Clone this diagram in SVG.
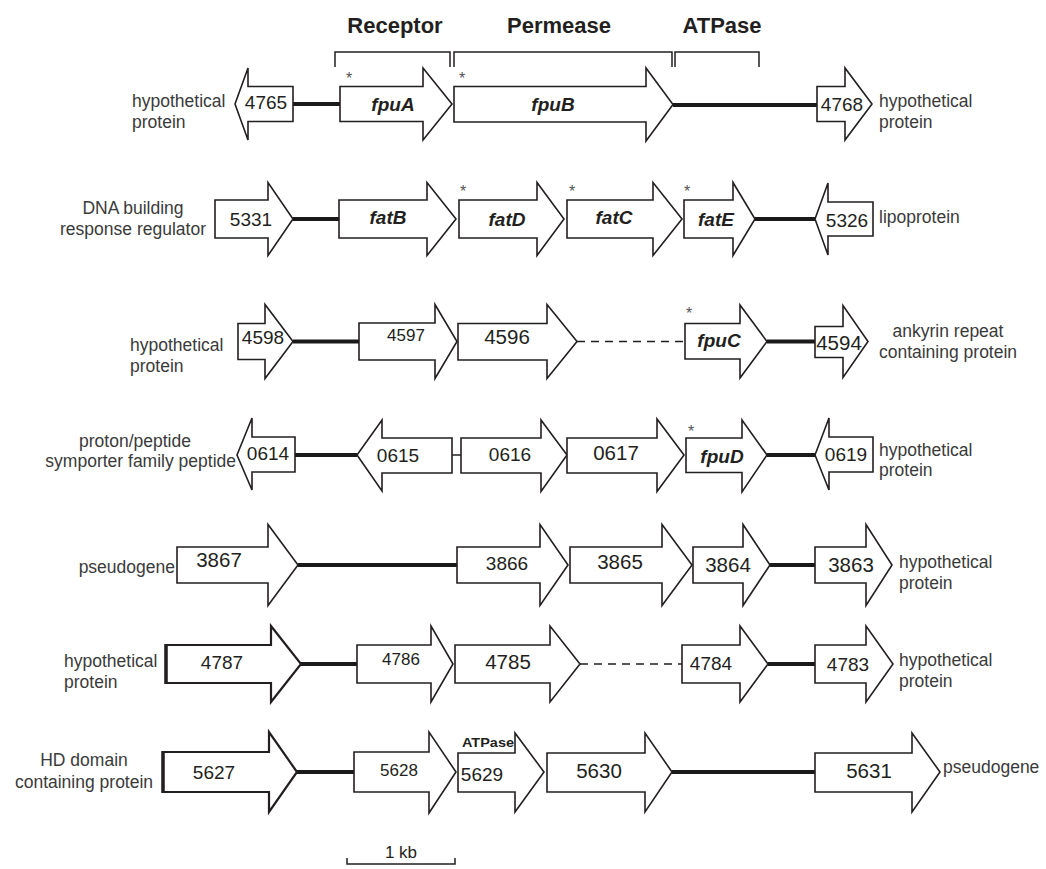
<svg xmlns="http://www.w3.org/2000/svg" width="1046" height="869" viewBox="0 0 1046 869">
<style>
.g{fill:#fff;stroke:#231f20;stroke-width:1.6;stroke-linejoin:miter}
.n{font-family:"Liberation Sans",Arial,sans-serif;font-size:19px;fill:#231f20;text-anchor:middle}
.s{font-size:17px}
.b{font-size:20.5px}
.i{font-family:"Liberation Sans",Arial,sans-serif;font-size:19px;font-weight:bold;font-style:italic;fill:#231f20;text-anchor:middle}
.l{font-family:"Liberation Sans",Arial,sans-serif;font-size:17.5px;fill:#3a3a3a}
.h{font-family:"Liberation Sans",Arial,sans-serif;font-size:22px;font-weight:bold;fill:#231f20;text-anchor:middle}
.a{font-family:"Liberation Sans",Arial,sans-serif;font-size:16px;fill:#555}
.t{stroke:#1a1a1a;stroke-width:4;fill:none}
.d{stroke:#231f20;stroke-width:1.5;fill:none;stroke-dasharray:8 6}
.k{stroke:#231f20;stroke-width:1.5;fill:none}
</style>
<rect width="1046" height="869" fill="#fff"/>

<g id="header">
<text class="h" x="395" y="33">Receptor</text>
<text class="h" x="559" y="33">Permease</text>
<text class="h" x="722" y="33">ATPase</text>
<polyline class="k" points="335,67 335,52 450,52 450,67"/>
<polyline class="k" points="454,67 454,52 672,52 672,67"/>
<polyline class="k" points="675,67 675,52 759,52 759,67"/>
</g>

<g id="connectors">
<line class="t" x1="293" y1="104" x2="341" y2="104"/>
<line class="t" x1="673" y1="105" x2="817" y2="105"/>
<line class="t" x1="293" y1="219" x2="339" y2="219"/>
<line class="t" x1="755" y1="219" x2="815" y2="219"/>
<line class="t" x1="293" y1="341.5" x2="359" y2="341.5"/>
<line class="d" x1="577" y1="341.5" x2="685" y2="341.5"/>
<line class="t" x1="767" y1="341.5" x2="815" y2="341.5"/>
<line class="t" x1="295" y1="455" x2="357" y2="455"/>
<line class="k" x1="452" y1="455" x2="461" y2="455"/>
<line class="t" x1="767" y1="455" x2="815" y2="455"/>
<line class="t" x1="298" y1="565" x2="457" y2="565"/>
<line class="t" x1="770" y1="565" x2="815" y2="565"/>
<line class="t" x1="301" y1="664" x2="357" y2="664"/>
<line class="d" x1="580" y1="664" x2="682" y2="664"/>
<line class="t" x1="768" y1="664" x2="815" y2="664"/>
<line class="t" x1="297" y1="772" x2="354" y2="772"/>
<line class="t" x1="672" y1="772" x2="815" y2="772"/>
</g>

<!-- Row 1 -->
<g id="label-r1-left"><text class="l" x="132" y="107">hypothetical</text><text class="l" x="132" y="128">protein</text></g>
<g id="g4765"><path class="g" d="M293,86.5 L248,86.5 L248,68 L235,104 L248,140 L248,121.5 L293,121.5 Z"/><text class="n" x="266" y="109">4765</text></g>
<g id="fpuA"><path class="g" d="M340,86.5 L423,86.5 L423,68 L452,104 L423,140 L423,121.5 L340,121.5 Z"/><text class="i" x="393" y="111">fpuA</text><text class="a" x="346" y="84">*</text></g>
<g id="fpuB"><path class="g" d="M454,86.5 L646,86.5 L646,68 L673,104.5 L646,141 L646,122 L454,122 Z"/><text class="i" x="553" y="111">fpuB</text><text class="a" x="459" y="84">*</text></g>
<g id="g4768"><path class="g" d="M817,86.5 L845,86.5 L845,68 L872,104 L845,140 L845,121.5 L817,121.5 Z"/><text class="n" x="842" y="111">4768</text></g>
<g id="label-r1-right"><text class="l" x="879" y="107">hypothetical</text><text class="l" x="879" y="128">protein</text></g>

<!-- Row 2 -->
<g id="label-r2-left"><text class="l" x="133" y="214" text-anchor="middle">DNA building</text><text class="l" x="133" y="235" text-anchor="middle">response regulator</text></g>
<g id="g5331"><path class="g" d="M215,200 L268,200 L268,182.5 L293,219 L268,255.5 L268,238 L215,238 Z"/><text class="n" x="251" y="226">5331</text></g>
<g id="fatB"><path class="g" d="M339,200 L427,200 L427,182.5 L456,219 L427,255.5 L427,238 L339,238 Z"/><text class="i" x="388" y="224">fatB</text></g>
<g id="fatD"><path class="g" d="M459,200 L537,200 L537,182.5 L564,219 L537,255.5 L537,238 L459,238 Z"/><text class="i" x="507" y="226">fatD</text><text class="a" x="460" y="197">*</text></g>
<g id="fatC"><path class="g" d="M567,200 L653,200 L653,182.5 L682,219 L653,255.5 L653,238 L567,238 Z"/><text class="i" x="614" y="224">fatC</text><text class="a" x="569" y="197">*</text></g>
<g id="fatE"><path class="g" d="M684,200 L733,200 L733,182.5 L755,219 L733,255.5 L733,238 L684,238 Z"/><text class="i" x="716" y="226">fatE</text><text class="a" x="684" y="197">*</text></g>
<g id="g5326"><path class="g" d="M873,202 L828,202 L828,183 L815,219 L828,255 L828,236 L873,236 Z"/><text class="n" x="847" y="227">5326</text></g>
<g id="label-r2-right"><text class="l" x="879" y="223">lipoprotein</text></g>

<!-- Row 3 -->
<g id="label-r3-left"><text class="l" x="130" y="351">hypothetical</text><text class="l" x="130" y="372">protein</text></g>
<g id="g4598"><path class="g" d="M238,323.5 L265,323.5 L265,304.5 L293,341.5 L265,378.5 L265,359.5 L238,359.5 Z"/><text class="n" x="263" y="344">4598</text></g>
<g id="g4597"><path class="g" d="M359,323 L435,323 L435,304.5 L457,341.5 L435,378.5 L435,360 L359,360 Z"/><text class="n s" x="406" y="341">4597</text></g>
<g id="g4596"><path class="g" d="M458,323.5 L547,323.5 L547,304.5 L577,341.5 L547,378.5 L547,360 L458,360 Z"/><text class="n b" x="507" y="344">4596</text></g>
<g id="fpuC"><path class="g" d="M685,323.5 L740,323.5 L740,305 L767,341.5 L740,378 L740,359 L685,359 Z"/><text class="i" x="719" y="347">fpuC</text><text class="a" x="686" y="319">*</text></g>
<g id="g4594"><path class="g" d="M815,326.5 L843,326.5 L843,305.5 L868,341.5 L843,377.5 L843,357.5 L815,357.5 Z"/><text class="n b" x="839" y="350">4594</text></g>
<g id="label-r3-right"><text class="l" x="948" y="337" text-anchor="middle">ankyrin repeat</text><text class="l" x="948" y="358" text-anchor="middle">containing protein</text></g>

<!-- Row 4 -->
<g id="label-r4-left"><text class="l" x="135" y="447" text-anchor="middle">proton/peptide</text><text class="l" x="236" y="467" text-anchor="end">symporter family peptide</text></g>
<g id="g0614"><path class="g" d="M295,437 L252,437 L252,418 L237,455 L252,490 L252,472 L295,472 Z"/><text class="n" x="268" y="460">0614</text></g>
<g id="g0615"><path class="g" d="M452,438 L382,438 L382,420 L357,455 L382,491 L382,473 L452,473 Z"/><text class="n" x="398" y="462">0615</text></g>
<g id="g0616"><path class="g" d="M461,438 L541,438 L541,420 L567,455 L541,491.5 L541,473 L461,473 Z"/><text class="n" x="510" y="461">0616</text></g>
<g id="g0617"><path class="g" d="M567,438 L657,438 L657,419 L684,455 L657,491.5 L657,473 L567,473 Z"/><text class="n b" x="616" y="460">0617</text></g>
<g id="fpuD"><path class="g" d="M686,438 L742,438 L742,420 L767,455 L742,492 L742,472.5 L686,472.5 Z"/><text class="i" x="722" y="463">fpuD</text><text class="a" x="688" y="437">*</text></g>
<g id="g0619"><path class="g" d="M873,437 L829,437 L829,418 L815,455 L829,490 L829,472 L873,472 Z"/><text class="n" x="846" y="461">0619</text></g>
<g id="label-r4-right"><text class="l" x="879" y="456">hypothetical</text><text class="l" x="879" y="476">protein</text></g>

<!-- Row 5 -->
<g id="label-r5-left"><text class="l" x="175" y="573" text-anchor="end">pseudogene</text></g>
<g id="g3867"><path class="g" d="M177,547 L268,547 L268,524.5 L298,565 L268,605.5 L268,583 L177,583 Z"/><text class="n b" x="219" y="567">3867</text></g>
<g id="g3866"><path class="g" d="M457,547 L540,547 L540,524.5 L568,565 L540,605.5 L540,583 L457,583 Z"/><text class="n" x="507" y="570">3866</text></g>
<g id="g3865"><path class="g" d="M570,547 L662,547 L662,524.5 L692,565 L662,605.5 L662,583 L570,583 Z"/><text class="n b" x="620" y="569">3865</text></g>
<g id="g3864"><path class="g" d="M693,547 L743,547 L743,524.5 L770,565 L743,605.5 L743,583 L693,583 Z"/><text class="n b" x="728" y="572">3864</text></g>
<g id="g3863"><path class="g" d="M815,547 L866,547 L866,524.5 L892,565 L866,605.5 L866,583 L815,583 Z"/><text class="n b" x="851" y="572">3863</text></g>
<g id="label-r5-right"><text class="l" x="899" y="568">hypothetical</text><text class="l" x="899" y="589">protein</text></g>

<!-- Row 6 -->
<g id="label-r6-left"><text class="l" x="64" y="667">hypothetical</text><text class="l" x="64" y="688">protein</text></g>
<g id="g4787"><path class="g" d="M166,645 L271,645 L271,626 L301,664 L271,702 L271,683 L166,683 Z" style="stroke-width:2.2"/><line x1="166" y1="644" x2="166" y2="684" stroke="#231f20" stroke-width="3.5"/><text class="n" x="222" y="669">4787</text></g>
<g id="g4786"><path class="g" d="M357,645 L431,645 L431,626 L453,664 L431,702 L431,683 L357,683 Z"/><text class="n s" x="401" y="665">4786</text></g>
<g id="g4785"><path class="g" d="M455,645 L550,645 L550,626 L580,664 L550,702 L550,683 L455,683 Z"/><text class="n b" x="508" y="669">4785</text></g>
<g id="g4784"><path class="g" d="M682,645 L740,645 L740,626 L768,664 L740,702 L740,683 L682,683 Z"/><text class="n" x="711" y="670">4784</text></g>
<g id="g4783"><path class="g" d="M815,645 L866,645 L866,626 L893,664 L866,702 L866,683 L815,683 Z"/><text class="n" x="848" y="671">4783</text></g>
<g id="label-r6-right"><text class="l" x="899" y="666">hypothetical</text><text class="l" x="899" y="687">protein</text></g>

<!-- Row 7 -->
<g id="label-r7-left"><text class="l" x="84" y="766" text-anchor="middle">HD domain</text><text class="l" x="84" y="788" text-anchor="middle">containing protein</text></g>
<g id="g5627"><path class="g" d="M163,752 L269,752 L269,732 L297,772 L269,812 L269,792 L163,792 Z" style="stroke-width:2.2"/><line x1="163" y1="751" x2="163" y2="793" stroke="#231f20" stroke-width="3.5"/><text class="n" x="214" y="779">5627</text></g>
<g id="g5628"><path class="g" d="M354,752 L429,752 L429,732 L456,772 L429,813 L429,792 L354,792 Z"/><text class="n s" x="399" y="776">5628</text></g>
<g id="g5629"><path class="g" d="M458,753 L515,753 L515,733 L544,772 L515,812 L515,792 L458,792 Z"/><text x="488" y="747" font-family="Liberation Sans,Arial,sans-serif" font-size="13" font-weight="bold" fill="#231f20" text-anchor="middle" textLength="52" lengthAdjust="spacingAndGlyphs">ATPase</text><text class="n" x="482" y="781">5629</text></g>
<g id="g5630"><path class="g" d="M547,753 L645,753 L645,733 L672,772 L645,812 L645,792 L547,792 Z"/><text class="n b" x="599" y="778">5630</text></g>
<g id="g5631"><path class="g" d="M815,753 L912,753 L912,733 L940,772 L912,812 L912,792 L815,792 Z"/><text class="n b" x="869" y="778">5631</text></g>
<g id="label-r7-right"><text class="l" x="943" y="773">pseudogene</text></g>

<g id="scale">
<polyline class="k" points="347,858 347,864 455,864 455,858"/>
<text class="l" x="401" y="858" text-anchor="middle" style="font-size:17px;fill:#231f20">1 kb</text>
</g>
</svg>
